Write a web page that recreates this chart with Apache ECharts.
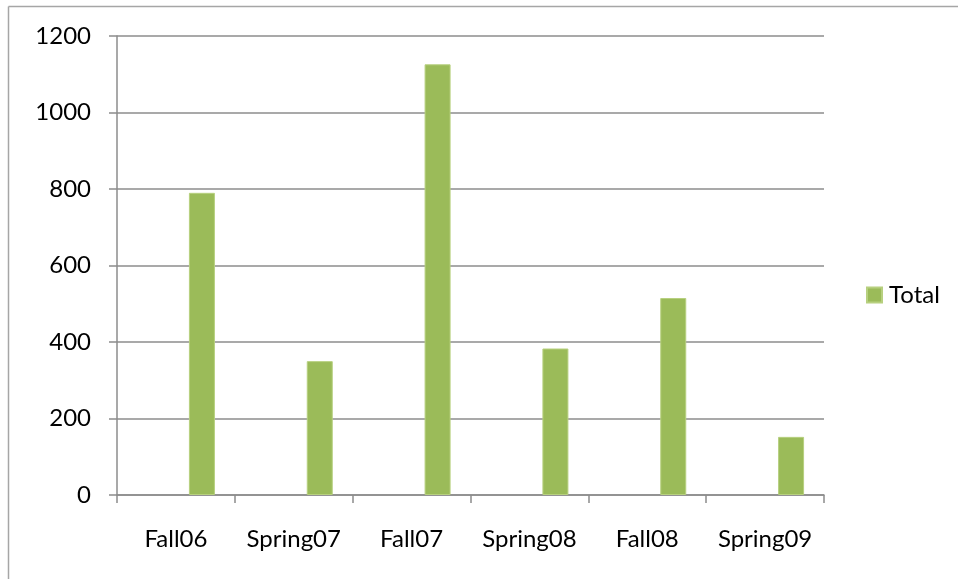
<!DOCTYPE html>
<html>
<head>
<meta charset="utf-8">
<script src="https://cdn.jsdelivr.net/npm/echarts@6/dist/echarts.min.js"></script>
<style>
	html, body { margin: 0; padding: 0; background: #ffffff; }
	#chart { width: 958px; height: 579px; }
</style>
</head>
<body>
<div id="chart"></div>
<script>
// chart data
const terms = ['Fall06', 'Spring07', 'Fall07', 'Spring08', 'Fall08', 'Spring09']
const totals = [790, 350, 1126, 383, 515, 152]
const blank = [null, null, null, null, null, null] // empty series, pushes Total to the right half
const yTicks = [0, 200, 400, 600, 800, 1000, 1200]

const font = 'Lato, "Open Sans", sans-serif'
const gray = '#8c8c8c'

let myChart = echarts.init(document.getElementById('chart'))

let option = {
	animation: false,
	backgroundColor: '#ffffff',
	textStyle: { fontFamily: font },
	graphic: [
		// outer frame, only top and left edges show
		{ type: 'line', shape: { x1: 8.5, y1: 6.5, x2: 958, y2: 6.5 }, style: { stroke: '#a6a6a6', lineWidth: 1.5 } },
		{ type: 'line', shape: { x1: 8.5, y1: 6.5, x2: 8.5, y2: 579 }, style: { stroke: '#a6a6a6', lineWidth: 1.5 } }
	],
	legend: {
		data: ['Total'],
		left: 866,
		top: 283,
		padding: 0,
		icon: 'rect',
		itemWidth: 15,
		itemHeight: 15,
		itemGap: 0,
		textStyle: { fontFamily: font, fontSize: 24, color: '#000000', padding: [0, 0, 0, 2] }
	},
	grid: {
		left: 117,
		right: 134,
		top: 36,
		bottom: 84
	},
	xAxis: {
		type: 'category',
		data: terms,
		axisLine: { lineStyle: { color: gray, width: 1.5 } },
		axisTick: { show: true, interval: 0, alignWithLabel: false, length: 8, lineStyle: { color: gray, width: 1.5 } },
		axisLabel: { interval: 0, margin: 32, fontSize: 24, fontFamily: font, color: '#000000' }
	},
	yAxis: {
		type: 'value',
		min: yTicks[0],
		max: yTicks[yTicks.length - 1],
		interval: 200,
		axisLine: { show: true, lineStyle: { color: gray, width: 1.5 } },
		axisTick: { show: true, length: 8, lineStyle: { color: gray, width: 1.5 } },
		axisLabel: { margin: 26, fontSize: 24, fontFamily: font, color: '#000000', formatter: v => String(v) },
		splitLine: { lineStyle: { color: gray, width: 1.5 } }
	},
	series: [
		{
			name: 'blank',
			type: 'bar',
			data: blank,
			barWidth: 26,
			barGap: '100%'
		},
		{
			name: 'Total',
			type: 'bar',
			data: totals,
			barWidth: 26,
			barGap: '100%',
			itemStyle: { color: '#9bbb59', borderColor: '#b7d07f', borderWidth: 1 }
		}
	]
}

myChart.setOption(option)
</script>
</body>
</html>
